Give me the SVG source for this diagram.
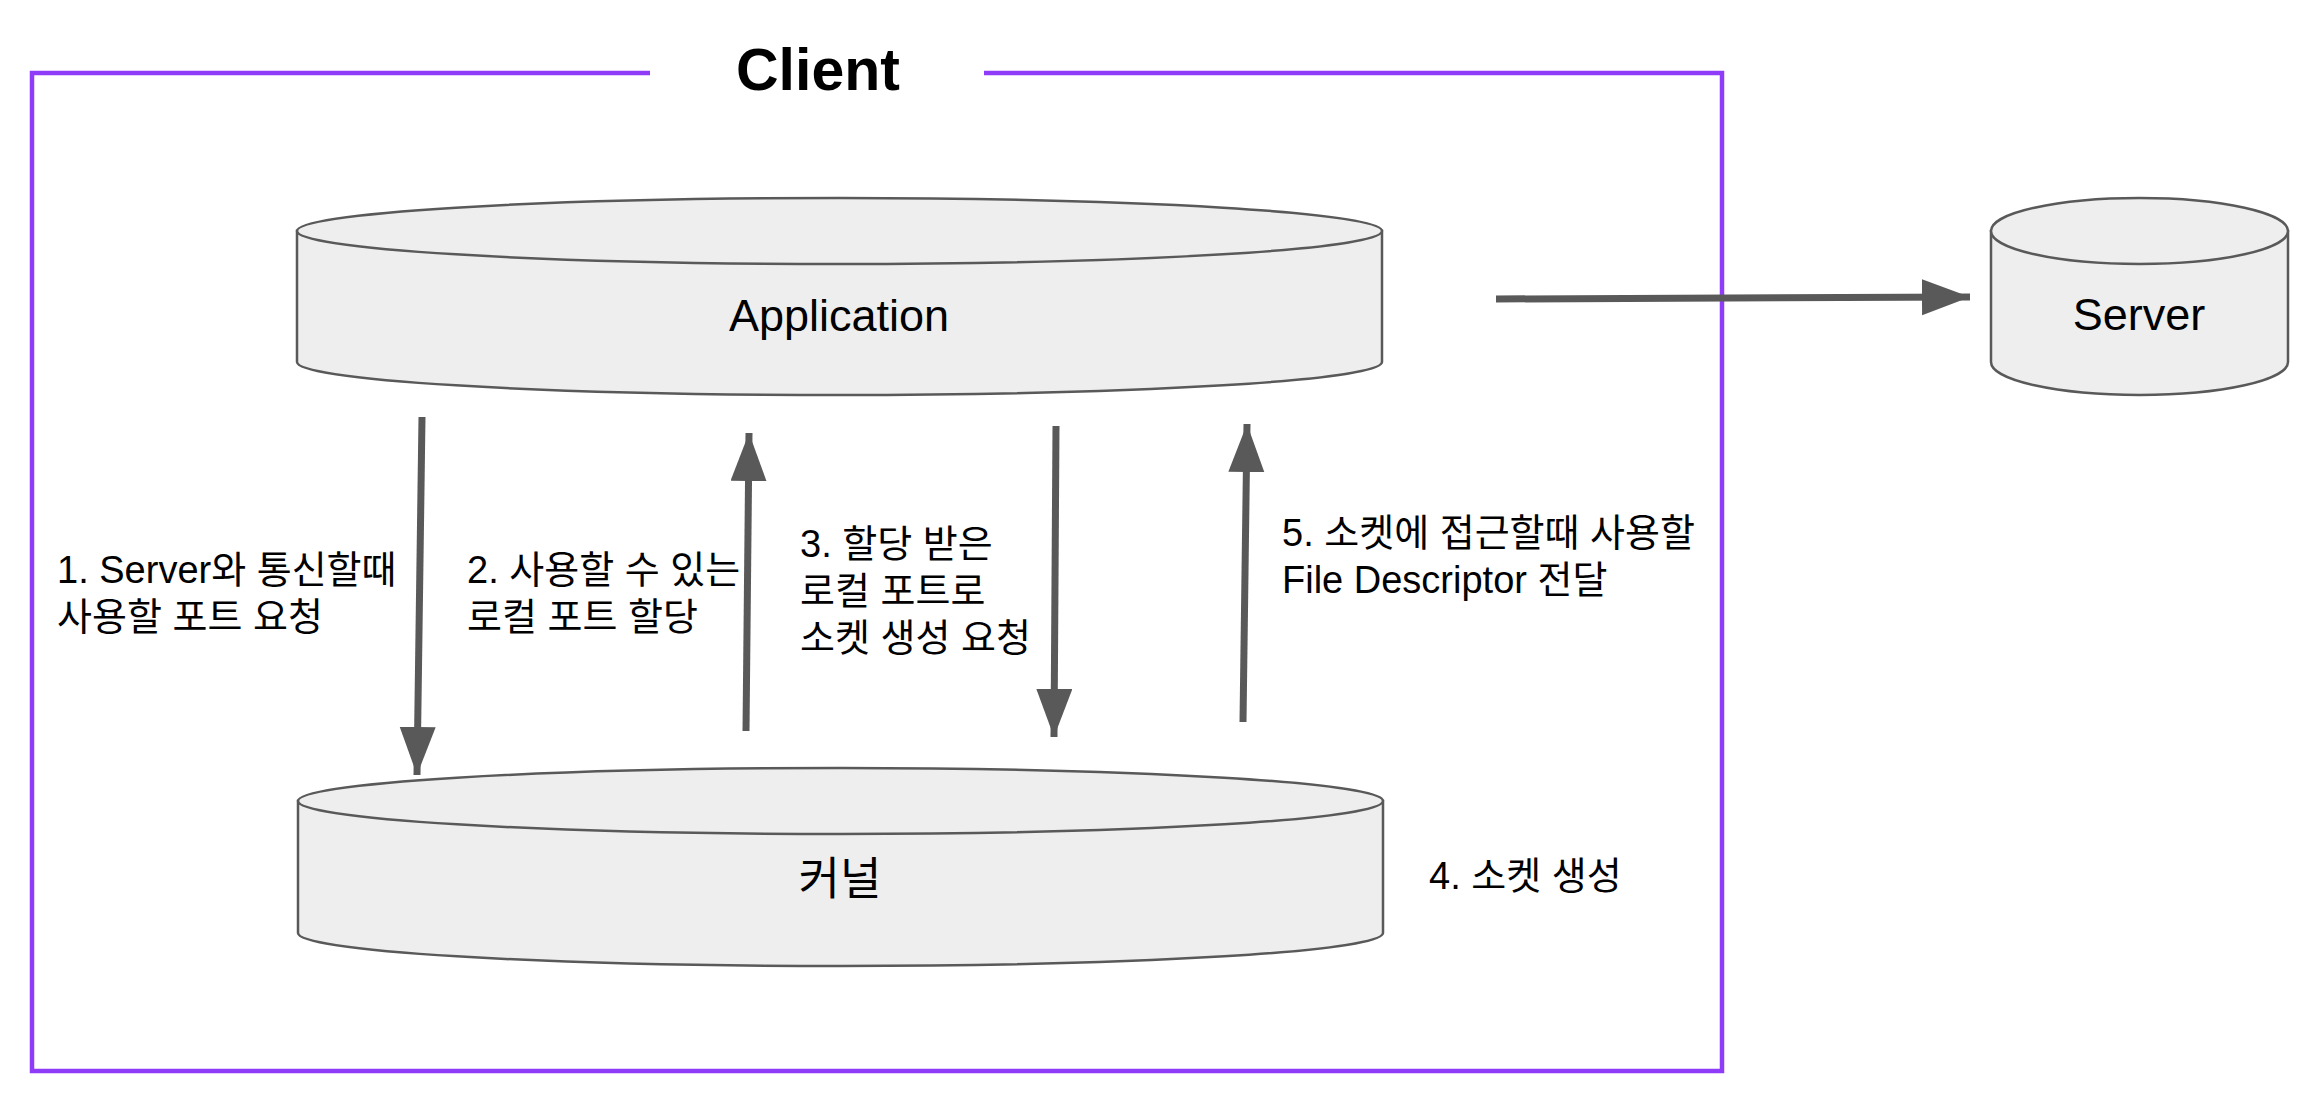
<svg xmlns="http://www.w3.org/2000/svg" width="2308" height="1114" viewBox="0 0 2308 1114">
<style>
.frame{fill:none;stroke:#8e3cf8;stroke-width:4.5}
.cyl{fill:#eeeeee;stroke:#595959;stroke-width:2.5}
.node{font-family:"Liberation Sans","Noto Sans CJK KR",Arial,sans-serif;font-size:45px;fill:#000;text-anchor:middle}
.lbl{font-family:"Liberation Sans","Noto Sans CJK KR",Arial,sans-serif;font-size:38px;fill:#000}
.title{font-family:"Liberation Sans",Arial,sans-serif;font-size:59px;font-weight:bold;fill:#000}
.arr{stroke:#595959;stroke-width:7;fill:none}
</style>
<defs>
<marker id="ah" markerUnits="userSpaceOnUse" markerWidth="50" markerHeight="40" refX="48" refY="18" orient="auto">
<path d="M0,0 L48,18 L0,36 Z" fill="#595959"/>
</marker>
</defs>
<rect width="2308" height="1114" fill="#fff"/>
<g id="client">
<path class="frame" d="M650 73 H32 V1071 H1722 V73 H984"/>
<text class="title" x="736" y="90">Client</text>
</g>
<g id="application">
<path class="cyl" d="M297 231 L297 362 A542.5 33 0 0 0 1382 362 L1382 231 Z"/>
<ellipse class="cyl" cx="839.5" cy="231" rx="542.5" ry="33"/>
<text class="node" x="839" y="331">Application</text>
</g>
<g id="kernel">
<path class="cyl" d="M298 801 L298 933 A542.5 33 0 0 0 1383 933 L1383 801 Z"/>
<ellipse class="cyl" cx="840.5" cy="801" rx="542.5" ry="33"/>
<text class="node" x="840" y="895">커널</text>
</g>
<g id="server">
<path class="cyl" d="M1991 231 L1991 362 A148.5 33 0 0 0 2288 362 L2288 231 Z"/>
<ellipse class="cyl" cx="2139.5" cy="231" rx="148.5" ry="33"/>
<text class="node" x="2139" y="330">Server</text>
</g>
<g id="connectors">
<line class="arr" x1="1496" y1="299" x2="1970" y2="297" marker-end="url(#ah)"/>
<line class="arr" x1="422" y1="417" x2="417" y2="775" marker-end="url(#ah)"/>
<line class="arr" x1="746" y1="731" x2="749" y2="433" marker-end="url(#ah)"/>
<line class="arr" x1="1056" y1="426" x2="1054" y2="737" marker-end="url(#ah)"/>
<line class="arr" x1="1243" y1="722" x2="1247" y2="424" marker-end="url(#ah)"/>
</g>
<g id="labels">
<text class="lbl" x="57" y="583">1. Server와 통신할때</text>
<text class="lbl" x="57" y="630">사용할 포트 요청</text>
<text class="lbl" x="467" y="583">2. 사용할 수 있는</text>
<text class="lbl" x="467" y="630">로컬 포트 할당</text>
<text class="lbl" x="800" y="557">3. 할당 받은</text>
<text class="lbl" x="800" y="604">로컬 포트로</text>
<text class="lbl" x="800" y="651">소켓 생성 요청</text>
<text class="lbl" x="1429" y="889">4. 소켓 생성</text>
<text class="lbl" x="1282" y="546">5. 소켓에 접근할때 사용할</text>
<text class="lbl" x="1282" y="593">File Descriptor 전달</text>
</g>
</svg>
